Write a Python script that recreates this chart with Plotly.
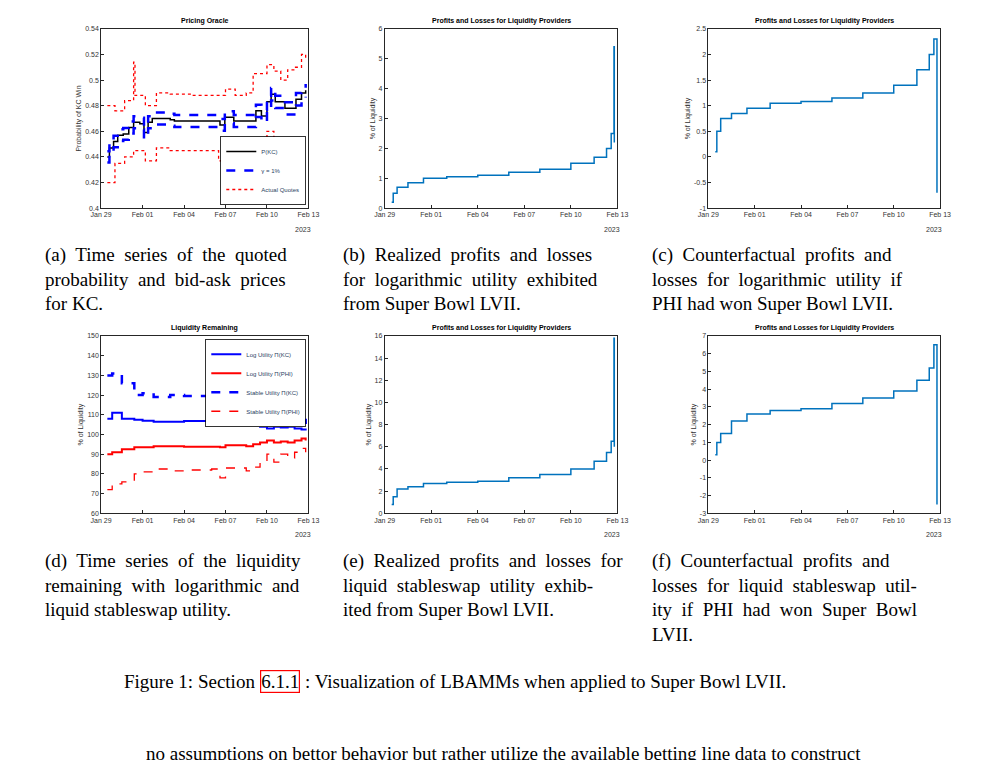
import pandas as pd
import plotly.graph_objects as go

BASE = pd.Timestamp("2023-01-29")
def T(days): return [BASE + pd.Timedelta(days=d) for d in days]

# (a) pricing oracle
p_days = [0.45,0.6,0.9,1.2,1.6,2.0,2.35,2.8,3.1,3.4,3.7,5.0,5.3,8.6,8.95,9.6,11.2,11.6,12.0,12.3,12.6,13.3,14.1,14.5,14.8]
p_kc   = [0.440,0.447,0.452,0.457,0.458,0.463,0.467,0.466,0.459,0.467,0.470,0.469,0.468,0.465,0.471,0.468,0.476,0.472,0.483,0.489,0.483,0.478,0.485,0.490,0.492]
gamma = 0.01
q_days = [0.45,1.0,1.7,2.35,2.45,3.2,4.0,5.0,6.5,8.5,9.0,9.7,10.5,11.0,12.0,12.5,13.0,13.5,14.0,14.5,14.8]
q_up   = [0.480,0.476,0.484,0.514,0.488,0.480,0.490,0.489,0.488,0.488,0.493,0.488,0.490,0.505,0.512,0.507,0.500,0.508,0.510,0.520,0.515]
q_lo   = [0.420,0.435,0.440,0.445,0.445,0.437,0.447,0.445,0.445,0.437,0.448,0.445,0.447,0.452,0.460,0.455,0.448,0.455,0.455,0.450,0.450]

# (d) liquidity remaining
l_days = [0.45,0.8,1.5,2.4,3.0,3.8,5.0,6.0,8.0,8.6,9.0,10.5,11.0,11.5,12.0,12.5,13.0,13.5,14.0,14.5,14.8]
log_kc = [108,111,108,107.5,107,106.5,106.5,106.8,106.8,107,106.5,106.5,105,104,103,104,103.5,104,103,102.5,103]
log_phi= [90,91,92.5,93.5,93.5,94,94,93.8,93.8,93.5,94.5,94,95,96,97,96,96.5,96,97,98,97]
st_kc  = [130,131,126,120,121,119,120,119.5,120,124,119,120,115,112,108,120,113,110,109,106,108]
st_phi = [72,75,76,80,81,82.5,81.5,82,82.5,78,83,81.5,83.5,86,90,86,90,88,91,93,91]

# P&L curves
pl_days = [0.45,0.55,0.8,1.5,2.5,4.0,6.0,8.0,10.0,12.0,13.5,14.3,14.6,14.78,14.8]
pl_b = [0.2,0.5,0.7,0.85,1.0,1.05,1.1,1.2,1.3,1.5,1.7,2.0,2.5,5.4,2.2]
pl_c = [0.1,0.5,0.75,0.85,0.95,1.05,1.08,1.15,1.25,1.4,1.7,2.0,2.3,2.3,-0.7]
pl_e = [0.8,1.5,2.2,2.4,2.7,2.8,2.9,3.2,3.5,4.0,4.7,5.5,6.5,15.8,6.0]
pl_f = [0.3,1.0,1.5,2.2,2.6,2.8,2.9,3.2,3.5,3.9,4.5,5.2,6.5,6.5,-2.5]

tick_days = [0,3,6,9,12,15]
tick_text = ["Jan 29","Feb 01","Feb 04","Feb 07","Feb 10","Feb 13"]

W, H = 990, 760
boxes = {  # x0,x1,y0,y1 in pixels
 1:(84,296,17,198), 2:(374,612,17,198), 3:(705,942,17,198),
 4:(84,296,327,506), 5:(374,612,327,506), 6:(705,942,327,506)}

fig = go.Figure()
def ax(i): return ("" if i == 1 else str(i))

BLUE = "#0072BD"
traces = [
 (1, T(p_days), p_kc, dict(color="black", width=1.5), "P(KC)", "legend"),
 (1, T(p_days), [v*(1+gamma) for v in p_kc], dict(color="blue", width=2.5, dash="dash"), "γ = 1%", "legend"),
 (1, T(p_days), [v*(1-gamma) for v in p_kc], dict(color="blue", width=2.5, dash="dash"), None, "legend"),
 (1, T(q_days), q_up, dict(color="red", width=1.3, dash="dot"), "Actual Quotes", "legend"),
 (1, T(q_days), q_lo, dict(color="red", width=1.3, dash="dot"), None, "legend"),
 (4, T(l_days), log_kc, dict(color="blue", width=2), "Log Utility Π(KC)", "legend2"),
 (4, T(l_days), log_phi, dict(color="red", width=2), "Log Utility Π(PHI)", "legend2"),
 (4, T(l_days), st_kc, dict(color="blue", width=2.5, dash="dash"), "Stable Utility Π(KC)", "legend2"),
 (4, T(l_days), st_phi, dict(color="red", width=1.3, dash="dash"), "Stable Utility Π(PHI)", "legend2"),
 (2, T(pl_days), pl_b, dict(color=BLUE, width=1.5), None, "legend"),
 (3, T(pl_days), pl_c, dict(color=BLUE, width=1.5), None, "legend"),
 (5, T(pl_days), pl_e, dict(color=BLUE, width=1.5), None, "legend"),
 (6, T(pl_days), pl_f, dict(color=BLUE, width=1.5), None, "legend"),
]
for i, x, y, line, name, lg in traces:
    fig.add_trace(go.Scatter(x=x, y=y, mode="lines", line=line, line_shape="hv",
        name=name or "", showlegend=name is not None, legend=lg,
        xaxis="x"+ax(i), yaxis="y"+ax(i)))

titles = {1:"Pricing Oracle", 2:"Profits and Losses for Liquidity Providers", 3:"Profits and Losses for Liquidity Providers",
          4:"Liquidity Remaining", 5:"Profits and Losses for Liquidity Providers", 6:"Profits and Losses for Liquidity Providers"}
ylabels = {1:"Probability of KC Win", 2:"% of Liquidity", 3:"% of Liquidity", 4:"% of Liquidity", 5:"% of Liquidity", 6:"% of Liquidity"}
yranges = {1:(0.4,0.54,0.02), 2:(0,6,1), 3:(-1,2.5,0.5), 4:(60,150,10), 5:(0,16,2), 6:(-3,7,1)}

axfont = dict(family="Liberation Sans, Arial", size=7, color="#333")
lay = {}
annotations = []
for i,(x0,x1,y0,y1) in boxes.items():
    lo, hi, st = yranges[i]
    n = int(round((hi-lo)/st))
    yt = [round(lo+k*st, 4) for k in range(n+1)]
    common = dict(showline=True, linecolor="#262626", linewidth=0.8, mirror=True, ticks="inside",
                  ticklen=3, tickcolor="#262626", showgrid=False, zeroline=False, tickfont=axfont)
    lay["xaxis"+ax(i)] = dict(domain=[x0/W, x1/W], anchor="y"+ax(i), type="date",
        range=[BASE, BASE+pd.Timedelta(days=15)], tickvals=T(tick_days), ticktext=tick_text, **common)
    lay["yaxis"+ax(i)] = dict(domain=[1-y1/H, 1-y0/H], anchor="x"+ax(i), range=[lo,hi],
        tickvals=yt, ticktext=[("%g" % v) for v in yt],
        title=dict(text=ylabels[i], font=dict(family="Liberation Sans", size=7, color="#333"), standoff=2), **common)
    annotations.append(dict(text="<b>"+titles[i]+"</b>", x=(x0+x1)/2/W, y=1-(y0-2)/H, xref="paper", yref="paper",
        showarrow=False, xanchor="center", yanchor="bottom", font=dict(family="Liberation Sans", size=7, color="black")))
    annotations.append(dict(text="2023", x=(x1-6)/W, y=1-(y1+16)/H, xref="paper", yref="paper",
        showarrow=False, xanchor="center", yanchor="top", font=axfont))

SERIF = "Liberation Serif, DejaVu Serif"
capfont = dict(family=SERIF, size=19, color="black")
caps = [
 (25, 232, "(a)  Time  series  of  the  quoted<br>probability  and  bid-ask  prices<br>for KC."),
 (329, 232, "(b)  Realized  profits  and  losses<br>for  logarithmic  utility  exhibited<br>from Super Bowl LVII."),
 (645, 232, "(c)  Counterfactual  profits  and<br>losses  for  logarithmic  utility  if<br>PHI had won Super Bowl LVII."),
 (25, 541, "(d)  Time  series  of  the  liquidity<br>remaining  with  logarithmic  and<br>liquid stableswap utility."),
 (329, 541, "(e)  Realized  profits  and  losses  for<br>liquid  stableswap  utility  exhib-<br>ited from Super Bowl LVII."),
 (645, 541, "(f)  Counterfactual  profits  and<br>losses  for  liquid  stableswap  util-<br>ity  if  PHI  had  won  Super  Bowl<br>LVII."),
]
for x, y, t in caps:
    annotations.append(dict(text=t, x=x/W, y=1-y/H, xref="paper", yref="paper", showarrow=False,
        xanchor="left", yanchor="top", align="left", font=capfont))
cy = 1-676/H
annotations.append(dict(text="Figure 1: Section", x=243/W, y=cy, xref="paper", yref="paper", showarrow=False,
    xanchor="right", yanchor="middle", font=capfont))
annotations.append(dict(text="6.1.1", x=246/W, y=cy, xref="paper", yref="paper", showarrow=False,
    xanchor="left", yanchor="middle", font=capfont, bordercolor="red", borderwidth=1.2, borderpad=0))
annotations.append(dict(text=": Visualization of LBAMMs when applied to Super Bowl LVII.", x=290/W, y=cy,
    xref="paper", yref="paper", showarrow=False, xanchor="left", yanchor="middle", font=capfont))
annotations.append(dict(text="no assumptions on bettor behavior but rather utilize the available betting line data to construct",
    x=0.5, y=1-748/H, xref="paper", yref="paper", showarrow=False, xanchor="center", yanchor="middle", font=capfont))

fig.update_layout(width=W, height=H, margin=dict(l=0, r=0, t=0, b=0), paper_bgcolor="white", plot_bgcolor="white",
    annotations=annotations,
    legend=dict(x=(296-3)/W, y=1-(198-3)/H, xanchor="right", yanchor="bottom", bgcolor="white",
                bordercolor="black", borderwidth=0.8, font=dict(family="Liberation Sans", size=6), tracegroupgap=0, itemwidth=30),
    legend2=dict(x=(296-3)/W, y=1-(327+3)/H, xanchor="right", yanchor="top", bgcolor="white",
                 bordercolor="black", borderwidth=0.8, font=dict(family="Liberation Sans", size=6), tracegroupgap=0, itemwidth=30),
    **lay)
fig.write_html("out.html")
